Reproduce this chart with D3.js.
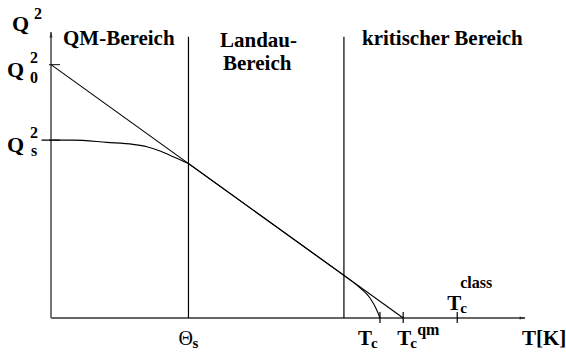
<!DOCTYPE html>
<html>
<head>
<meta charset="utf-8">
<script src="https://cdn.jsdelivr.net/npm/d3@7"></script>
</head>
<body style="margin:0">
<svg id="chart" width="566" height="359" font-family="Liberation Serif"></svg>
<script>
// Characteristic temperatures (arbitrary units along the T axis)
const thetaS = 29.0;      // saturation temperature Θ_s
const regionEdge = 61.8;  // boundary Landau / critical region
const Tc = 69.4;          // actual critical temperature
const TcQm = 74.3;        // quantum-mechanical mean-field T_c
const TcClass = 85.7;     // classical T_c

// Order parameter levels
const Q0sq = 88.6;        // Q_0^2
const QsSq = 62.2;        // Q_s^2

// Straight mean-field line Q^2 = Q_0^2 (1 - T/T_c^qm)
const landauLine = [[0, Q0sq], [TcQm, 0]];

// Real behaviour, three regimes
// saturation (quantum) regime up to Θ_s
const satT = [-2.0, 4.6,  11.8, 17.3, 20.2, 23.0, 25.8, 29.0];
const satQ = [62.2, 62.2, 61.4, 60.7, 59.9, 58.4, 56.4, 54.0];
// Landau regime: follows the mean-field line
const landauT = [29.0, 61.8];
const landauQ = [54.0, 14.9];
// critical regime: drops to zero at T_c
const critT = [61.8, 65.2, 67.3, 68.7, 69.4];
const critQ = [14.9, 10.5, 7.0,  2.9,  0.0];

const regionLines = [thetaS, regionEdge];
const regionTop = 98.3;

const svg = d3.select("#chart");
const x = d3.scaleLinear().domain([0, 100]).range([51, 525]);
const y = d3.scaleLinear().domain([0, 100]).range([318, 32]);

const FONT = "Liberation Serif";

// Axes with arrowheads
svg.append("defs").append("marker")
  .attr("id", "arrow").attr("viewBox", "0 0 10 10")
  .attr("refX", 9).attr("refY", 5)
  .attr("markerWidth", 7).attr("markerHeight", 6)
  .attr("markerUnits", "userSpaceOnUse")
  .attr("orient", "auto")
  .append("path").attr("d", "M0,2.5 L10,5 L0,7.5 Z").attr("fill", "#333");

svg.append("line")
  .attr("x1", x(0)).attr("y1", y(0)).attr("x2", x(100)).attr("y2", y(0))
  .attr("stroke", "#666").attr("stroke-width", 1.8).attr("marker-end", "url(#arrow)");
svg.append("line")
  .attr("x1", x(0)).attr("y1", y(0)).attr("x2", x(0)).attr("y2", y(100))
  .attr("stroke", "#666").attr("stroke-width", 1.8).attr("marker-end", "url(#arrow)");

// Region separators
svg.selectAll(".region").data(regionLines).join("line")
  .attr("x1", d => x(d)).attr("x2", d => x(d))
  .attr("y1", y(0)).attr("y2", y(regionTop))
  .attr("stroke", "#000").attr("stroke-width", 1.2);

// Ticks for Q_0^2 and Q_s^2 on the y axis
svg.selectAll(".ytick").data([Q0sq, QsSq]).join("line")
  .attr("x1", x(0) - 2).attr("x2", x(0) + 9)
  .attr("y1", d => y(d)).attr("y2", d => y(d))
  .attr("stroke", "#333").attr("stroke-width", 1.2);

// Ticks on the T axis
svg.selectAll(".xtick").data([Tc, TcQm, TcClass]).join("line")
  .attr("x1", d => x(d)).attr("x2", d => x(d))
  .attr("y1", y(0) - 6).attr("y2", y(0) + 5)
  .attr("stroke", "#000").attr("stroke-width", 1.2);

const pairs = (ts, qs) => ts.map((t, i) => [t, qs[i]]);
const straight = d3.line().x(d => x(d[0])).y(d => y(d[1]));
const smooth = d3.line().x(d => x(d[0])).y(d => y(d[1])).curve(d3.curveMonotoneX);

svg.append("path").datum(landauLine)
  .attr("d", straight).attr("fill", "none")
  .attr("stroke", "#000").attr("stroke-width", 1.1);

const realPath = smooth(pairs(satT, satQ)) +
  straight(pairs(landauT, landauQ)).replace(/^M/, "L") +
  smooth(pairs(critT, critQ)).replace(/^M[^A-Z]*/i, "");
svg.append("path").attr("d", realPath).attr("fill", "none")
  .attr("stroke", "#000").attr("stroke-width", 1.1);

// Text labels: each piece is its own <text>
function label(px, py, parts, size) {
  parts.forEach(p => {
    svg.append("text")
      .attr("x", px + (p.dx || 0)).attr("y", py + (p.dy || 0))
      .attr("font-family", FONT)
      .attr("font-size", p.size || size)
      .attr("font-weight", p.weight || "bold")
      .style("font-family", FONT)
      .text(p.text);
  });
}

// Region titles
label(63, 45, [{text: "QM-Bereich"}], 21);
label(220, 47, [{text: "Landau-"}], 21);
label(223, 70, [{text: "Bereich"}], 21);
label(362, 45, [{text: "kritischer Bereich"}], 21);

// Axis titles
label(12, 31, [{text: "Q"}, {text: "2", size: 16, dx: 22, dy: -12}], 22);
label(522, 345, [{text: "T[K]"}], 21);

// Y-axis level labels
label(7, 77, [{text: "Q"}, {text: "2", size: 16, dx: 23, dy: -14}, {text: "0", size: 16, dx: 23, dy: 6}], 22);
label(7, 152, [{text: "Q"}, {text: "2", size: 16, dx: 23, dy: -14}, {text: "s", size: 16, dx: 24, dy: 4}], 22);

// Temperature labels
label(x(thetaS) - 10, 345, [{text: "Θ", weight: "normal"}, {text: "s", size: 15, dx: 14, dy: 3}], 20);
label(x(Tc) - 22, 345, [{text: "T"}, {text: "c", size: 15, dx: 13, dy: 3}], 21);
label(x(TcQm) - 6, 345, [{text: "T"}, {text: "c", size: 15, dx: 13, dy: 3}, {text: "qm", size: 16, dx: 20, dy: -10}], 21);
label(x(TcClass) - 10, 310, [{text: "T"}, {text: "c", size: 15, dx: 13, dy: 3}, {text: "class", size: 16, dx: 13, dy: -22}], 21);
</script>
</body>
</html>
